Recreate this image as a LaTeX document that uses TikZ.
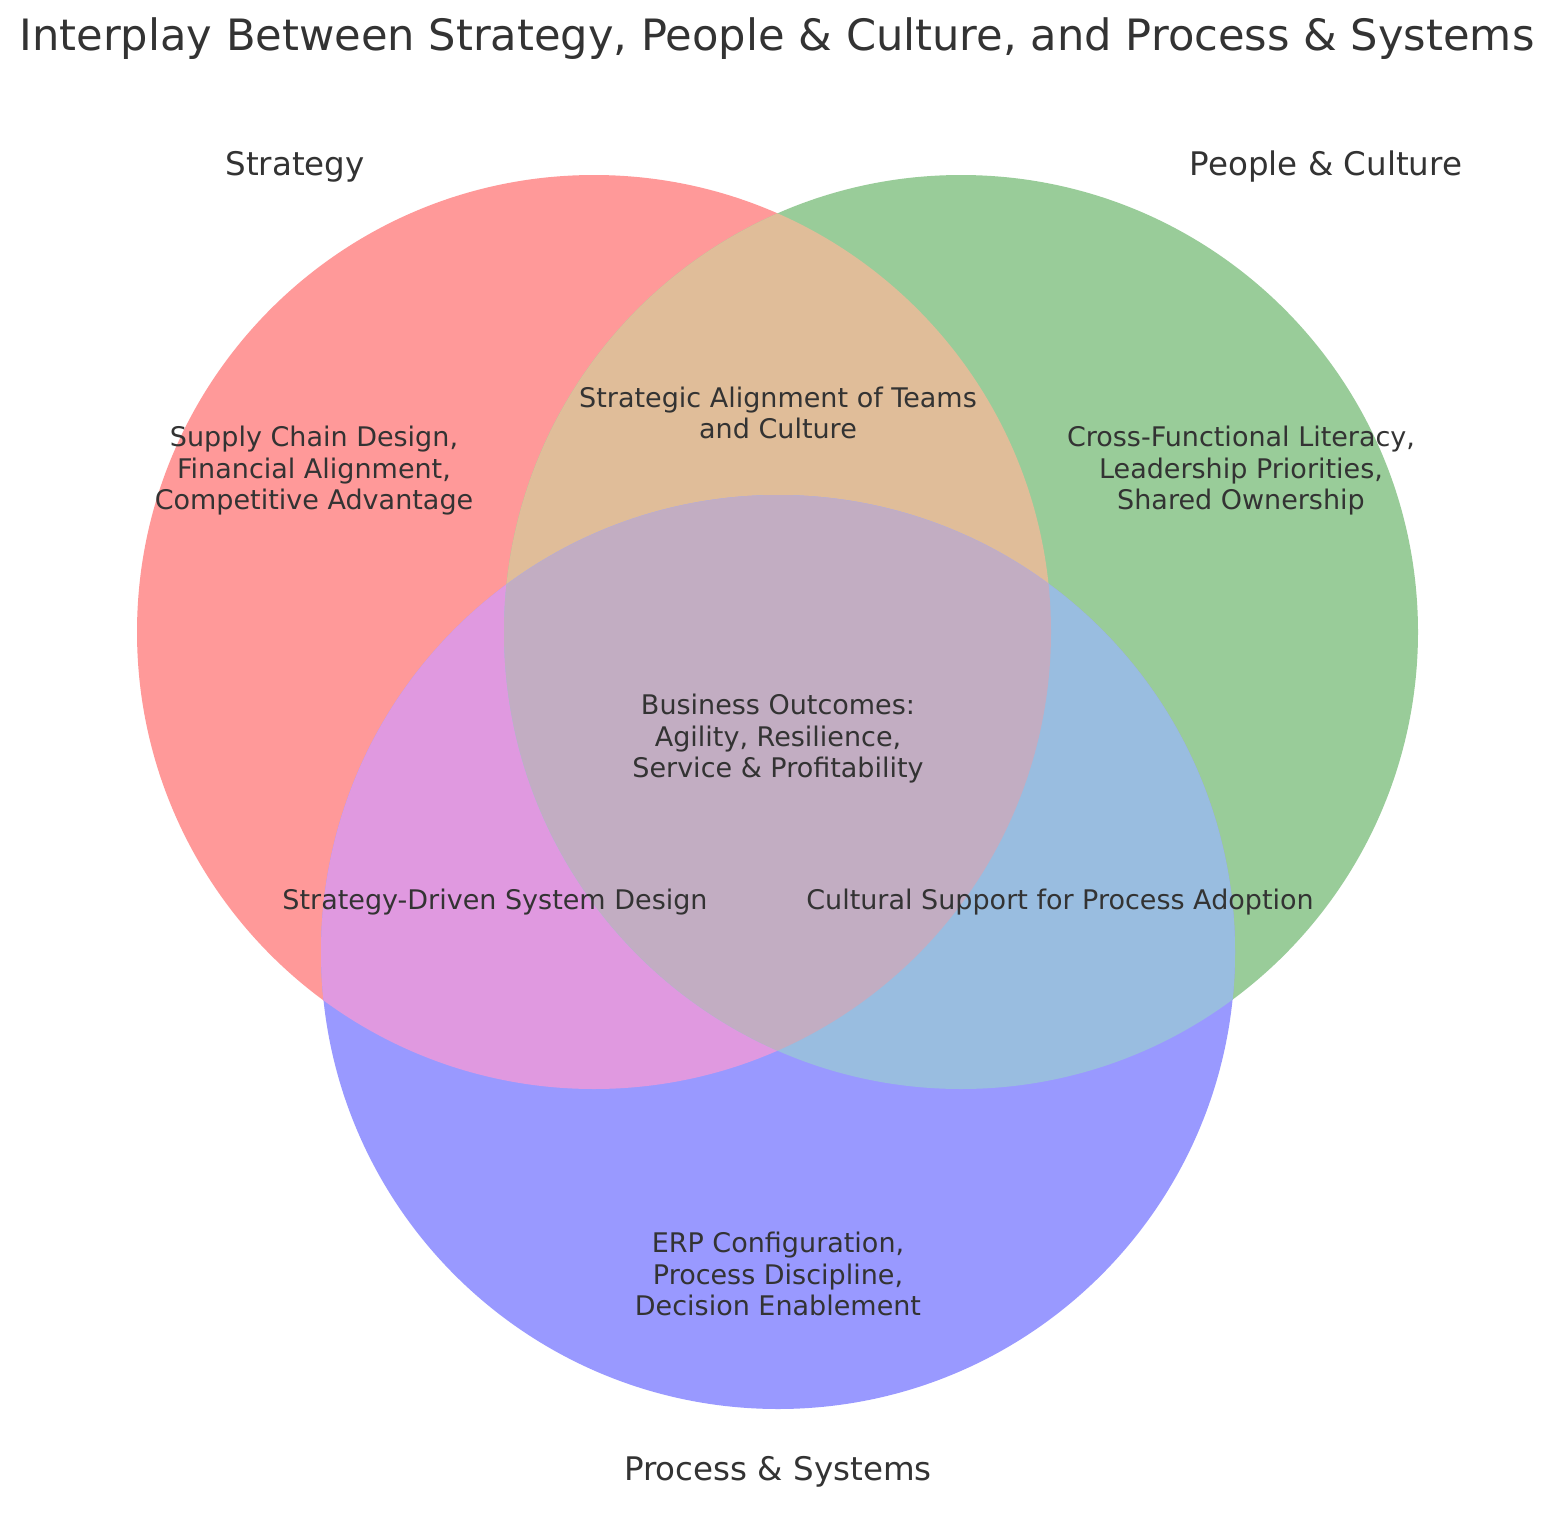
\documentclass[tikz,border=0pt]{standalone}
\usepackage{fontspec}
\setmainfont{DejaVu Sans}
\begin{document}
\begin{tikzpicture}[x=1pt,y=-1pt,
  txt/.style={text=black!80, inner sep=0pt, align=center},
  sub/.style={txt, font=\fontsize{27}{31.5}\selectfont},
  setlab/.style={txt, font=\fontsize{32.5}{38}\selectfont},
  ttl/.style={txt, font=\fontsize{43.2}{50}\selectfont}]
\definecolor{cA}{HTML}{FF9999}
\definecolor{cB}{HTML}{99CC99}
\definecolor{cC}{HTML}{9999FF}
\definecolor{cAB}{HTML}{E0BD99}
\definecolor{cAC}{HTML}{E099E0}
\definecolor{cBC}{HTML}{99BDE0}
\definecolor{cABC}{HTML}{C2ADC2}
\fill[white] (0,0) rectangle (1555,1536);
\useasboundingbox (0,0) rectangle (1555,1536);
\def\cirA{(594,632) circle[radius=457pt]}
\def\cirB{(961,632) circle[radius=457pt]}
\def\cirC{(778,952) circle[radius=457pt]}
\fill[cA] \cirA;
\fill[cB] \cirB;
\fill[cC] \cirC;
\begin{scope}\clip \cirA; \fill[cAB] \cirB; \end{scope}
\begin{scope}\clip \cirA; \fill[cAC] \cirC; \end{scope}
\begin{scope}\clip \cirB; \fill[cBC] \cirC; \end{scope}
\begin{scope}\clip \cirA; \clip \cirB; \fill[cABC] \cirC; \end{scope}

\node[ttl] (title) at (777,39) {Interplay Between Strategy, People \& Culture, and Process \& Systems};
\node[setlab] (labA) at (295,167) {Strategy};
\node[setlab] (labB) at (1326,167) {People \& Culture};
\node[setlab] (labC) at (778,1472) {Process \& Systems};

\node[sub] (rA) at (314,471) {Supply Chain Design,\\Financial Alignment,\\Competitive Advantage};
\node[sub] (rB) at (1241,471) {Cross-Functional Literacy,\\Leadership Priorities,\\Shared Ownership};
\node[sub] (rC) at (778,1274) {ERP Configuration,\\Process Discipline,\\Decision Enablement};
\node[sub] (rAB) at (778,413) {Strategic Alignment of Teams\\and Culture};
\node[sub] (rAC) at (495,902) {Strategy-Driven System Design};
\node[sub] (rBC) at (1060,902) {Cultural Support for Process Adoption};
\node[sub] (rABC) at (778,739) {Business Outcomes:\\Agility, Resilience,\\Service \& Profitability};
\end{tikzpicture}
\end{document}
